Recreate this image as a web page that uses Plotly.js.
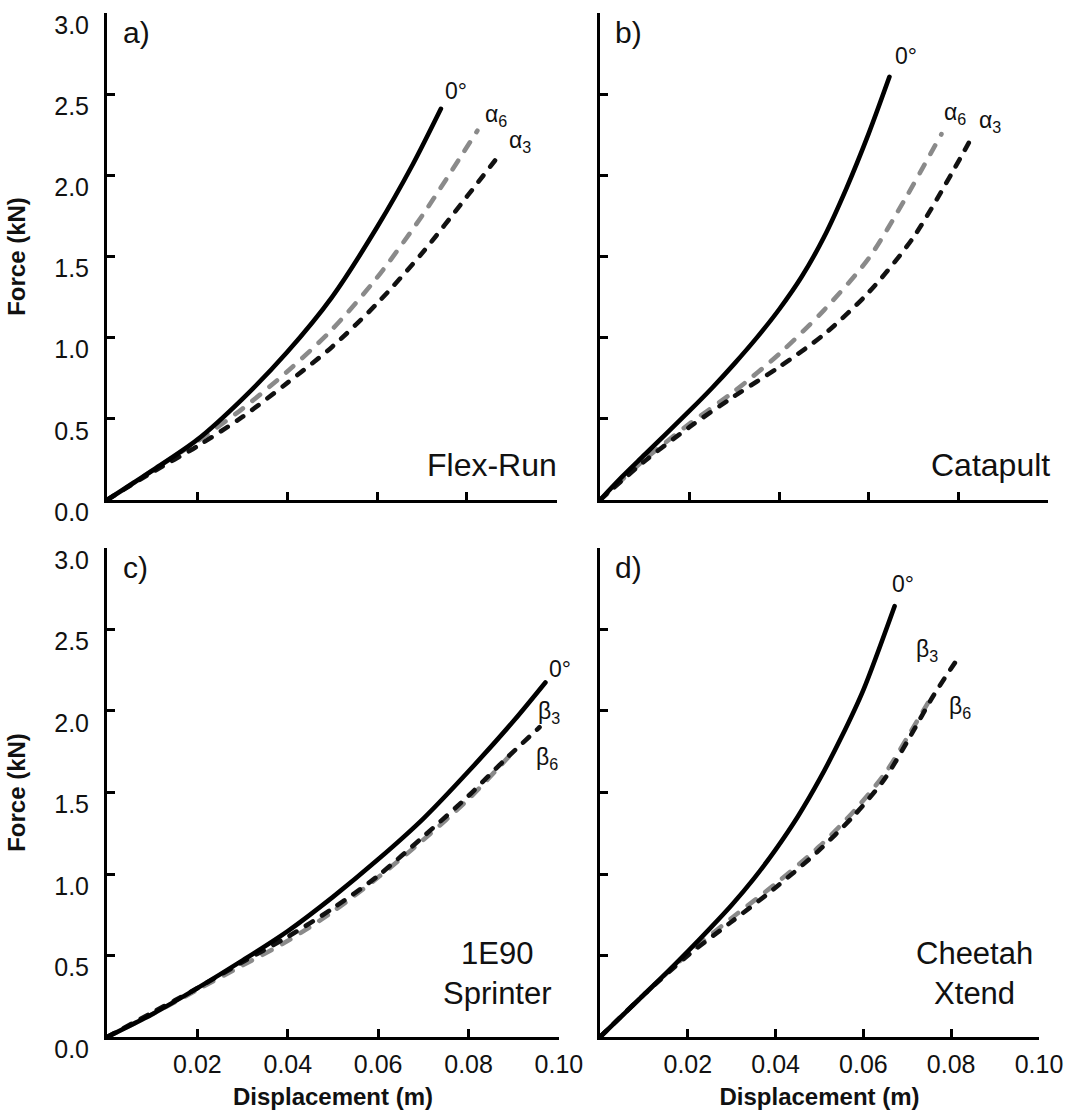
<!DOCTYPE html>
<html>
<head>
<meta charset="utf-8">
<script src="https://cdn.plot.ly/plotly-3.0.1.min.js"></script>
<style>html,body{margin:0;padding:0;background:#fff}#chart{width:1090px;height:1114px}
#chart path.js-line{stroke-linecap:round !important;stroke-linejoin:round !important}</style>
</head>
<body>
<div id="chart"></div>
<script>
// ---- Data ----
// Panel a) Flex-Run
const a0_x = [0, 0.01, 0.02, 0.03, 0.04, 0.05, 0.06, 0.068, 0.0742];
const a0_y = [0, 0.18, 0.37, 0.62, 0.91, 1.25, 1.68, 2.07, 2.41];
const a6_x = [0, 0.01, 0.02, 0.03, 0.04, 0.05, 0.06, 0.07, 0.0823];
const a6_y = [0, 0.18, 0.36, 0.56, 0.79, 1.05, 1.37, 1.75, 2.275];
const a3_x = [0, 0.01, 0.02, 0.03, 0.04, 0.05, 0.06, 0.07, 0.08, 0.0873];
const a3_y = [0, 0.17, 0.33, 0.51, 0.72, 0.943, 1.21, 1.52, 1.87, 2.13];
// Panel b) Catapult
const b0_x = [0, 0.005, 0.01, 0.02, 0.025, 0.03, 0.035, 0.04, 0.045, 0.05, 0.055, 0.06, 0.0646];
const b0_y = [0, 0.145, 0.28, 0.55, 0.69, 0.84, 1.0, 1.175, 1.375, 1.62, 1.92, 2.26, 2.607];
const b6_x = [0, 0.01, 0.02, 0.03, 0.04, 0.05, 0.06, 0.068, 0.0762];
const b6_y = [0, 0.25, 0.47, 0.67, 0.90, 1.17, 1.49, 1.85, 2.254];
const b3_x = [0, 0.01, 0.02, 0.03, 0.04, 0.05, 0.06, 0.07, 0.0823];
const b3_y = [0, 0.24, 0.45, 0.64, 0.82, 1.02, 1.28, 1.62, 2.20];
// Panel c) 1E90 Sprinter
const c0_x = [0, 0.01, 0.02, 0.03, 0.04, 0.05, 0.06, 0.07, 0.08, 0.09, 0.097];
const c0_y = [0, 0.14, 0.30, 0.47, 0.65, 0.86, 1.09, 1.34, 1.63, 1.94, 2.175];
const c3_x = [0, 0.01, 0.02, 0.03, 0.04, 0.05, 0.06, 0.07, 0.08, 0.088, 0.0957];
const c3_y = [0, 0.15, 0.30, 0.46, 0.615, 0.79, 0.99, 1.23, 1.48, 1.70, 1.90];
const c6_x = [0, 0.01, 0.02, 0.03, 0.04, 0.05, 0.06, 0.07, 0.08, 0.0889];
const c6_y = [0, 0.14, 0.29, 0.44, 0.59, 0.77, 0.98, 1.21, 1.46, 1.72];
// Panel d) Cheetah Xtend
const d0_x = [0, 0.005, 0.01, 0.015, 0.02, 0.025, 0.03, 0.035, 0.04, 0.045, 0.05, 0.055, 0.06, 0.0671];
const d0_y = [0, 0.13, 0.26, 0.39, 0.525, 0.665, 0.81, 0.97, 1.15, 1.35, 1.58, 1.84, 2.13, 2.643];
const d3_x = [0, 0.01, 0.02, 0.0298, 0.0396, 0.0494, 0.0578, 0.0648, 0.0703, 0.0759, 0.0811];
const d3_y = [0, 0.26, 0.50, 0.704, 0.908, 1.133, 1.357, 1.582, 1.827, 2.092, 2.306];
const d6_x = [0, 0.01, 0.02, 0.03, 0.04, 0.05, 0.058, 0.065, 0.0705, 0.0758];
const d6_y = [0, 0.26, 0.51, 0.73, 0.94, 1.17, 1.39, 1.62, 1.86, 2.10];

const xTickVals = [0.02, 0.04, 0.06, 0.08, 0.10];
const xTickText = ['0.02', '0.04', '0.06', '0.08', '0.10'];
const yTickVals = [0, 0.5, 1.0, 1.5, 2.0, 2.5, 3.0];
const yTickText = ['0.0', '0.5', '1.0', '1.5', '2.0', '2.5', '3.0'];

const panelLetters = ['a)', 'b)', 'c)', 'd)'];
const panelNames = ['Flex-Run', 'Catapult', '1E90<br>Sprinter', 'Cheetah<br>Xtend'];

// ---- Styling ----
const FONT = 'Liberation Sans, Arial, sans-serif';
const SOLID = {color: '#000', width: 4.6, dash: 'solid', shape: 'spline', smoothing: 0.8};
const GREY = {color: '#8a8a8a', width: 4.6, dash: '10px,12px', shape: 'spline', smoothing: 0.8};
const BLACKD = {color: '#111', width: 4.6, dash: '8px,11px', shape: 'spline', smoothing: 0.8};

function tr(x, y, line, ax, name) {
  return {x: x, y: y, type: 'scatter', mode: 'lines', line: line, xaxis: 'x' + ax, yaxis: 'y' + ax,
          name: name, showlegend: false, hoverinfo: 'skip'};
}
const data = [
  tr(a6_x, a6_y, GREY, '', 'α6'), tr(a3_x, a3_y, BLACKD, '', 'α3'), tr(a0_x, a0_y, SOLID, '', '0°'),
  tr(b6_x, b6_y, GREY, '2', 'α6'), tr(b3_x, b3_y, BLACKD, '2', 'α3'), tr(b0_x, b0_y, SOLID, '2', '0°'),
  tr(c6_x, c6_y, GREY, '3', 'β6'), tr(c3_x, c3_y, BLACKD, '3', 'β3'), tr(c0_x, c0_y, SOLID, '3', '0°'),
  tr(d6_x, d6_y, GREY, '4', 'β6'), tr(d3_x, d3_y, BLACKD, '4', 'β3'), tr(d0_x, d0_y, SOLID, '4', '0°')
];

function xax(domain, anchor, labels) {
  const o = {domain: domain, anchor: anchor, range: [0, 0.1], showgrid: false, zeroline: false,
    showline: true, linecolor: '#000', linewidth: 3, ticks: 'inside', ticklen: 8, tickwidth: 3, tickcolor: '#000',
    tickmode: 'array', tickvals: xTickVals, ticktext: xTickText, showticklabels: labels,
    tickfont: {family: FONT, size: 25, color: '#111'}, ticklabelstandoff: 3, automargin: false, fixedrange: true};
  if (labels) o.title = {text: '<b>Displacement (m)</b>', font: {family: FONT, size: 24, color: '#111'}, standoff: 12};
  return o;
}
function yax(domain, anchor, labels) {
  const o = {domain: domain, anchor: anchor, range: [0, 3], showgrid: false, zeroline: false,
    showline: true, linecolor: '#000', linewidth: 3, ticks: 'inside', ticklen: 8, tickwidth: 3, tickcolor: '#000',
    tickmode: 'array', tickvals: yTickVals, ticktext: yTickText, showticklabels: labels,
    tickfont: {family: FONT, size: 25, color: '#111'}, ticklabelshift: 12, ticklabelstandoff: 10,
    automargin: false, fixedrange: true};
  if (labels) o.title = {text: '<b>Force (kN)</b>', font: {family: FONT, size: 24, color: '#111'}, standoff: 22};
  return o;
}

const topY = [0.5512, 0.9883], botY = [0.0691, 0.5081];
const layout = {
  width: 1090, height: 1114, margin: {l: 0, r: 0, t: 0, b: 0},
  paper_bgcolor: '#fff', plot_bgcolor: '#fff', showlegend: false,
  font: {family: FONT, color: '#111'},
  xaxis: xax([0.0982, 0.5110], 'y', false), yaxis: yax(topY, 'x', true),
  xaxis2: xax([0.5505, 0.9615], 'y2', false), yaxis2: yax(topY, 'x2', false),
  xaxis3: xax([0.0982, 0.5128], 'y3', true), yaxis3: yax(botY, 'x3', true),
  xaxis4: xax([0.5505, 0.9532], 'y4', true), yaxis4: yax(botY, 'x4', false),
  annotations: []
};

function ann(ax, x, y, text, size, xanchor, xshift) {
  layout.annotations.push({xref: 'x' + ax, yref: 'y' + ax, x: x, y: y, text: text, showarrow: false,
    xanchor: xanchor || 'left', yanchor: 'middle', xshift: xshift || 0,
    font: {family: FONT, size: size, color: '#111'}});
}
// panel letters
['', '2', '3', '4'].forEach((ax, i) => ann(ax, 0.003, 2.88, panelLetters[i], 30, 'left'));
// model names
ann('', 0.0999, 0.215, panelNames[0], 32, 'right', 2);
ann('2', 0.0999, 0.215, panelNames[1], 32, 'right', 4);
ann('3', 0.0865, 0.39, panelNames[2], 31, 'center');
ann('4', 0.0854, 0.39, panelNames[3], 31, 'center');
// curve labels
ann('', 0.0747, 2.52, '0°', 23); ann('', 0.0836, 2.37, 'α<sub>6</sub>', 23); ann('', 0.0889, 2.21, 'α<sub>3</sub>', 23);
ann('2', 0.0654, 2.735, '0°', 23); ann('2', 0.0763, 2.38, 'α<sub>6</sub>', 23); ann('2', 0.0842, 2.33, 'α<sub>3</sub>', 23);
ann('3', 0.0973, 2.26, '0°', 23); ann('3', 0.0949, 1.99, 'β<sub>3</sub>', 23); ann('3', 0.0945, 1.71, 'β<sub>6</sub>', 23);
ann('4', 0.066, 2.78, '0°', 23); ann('4', 0.0715, 2.37, 'β<sub>3</sub>', 23); ann('4', 0.079, 2.02, 'β<sub>6</sub>', 23);

Plotly.newPlot('chart', data, layout, {displayModeBar: false, staticPlot: true});
</script>
</body>
</html>
